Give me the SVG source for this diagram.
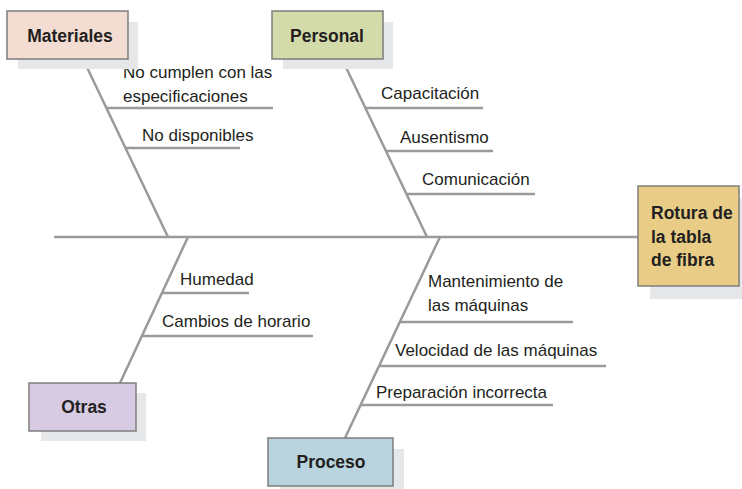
<svg xmlns="http://www.w3.org/2000/svg" width="742" height="489" viewBox="0 0 742 489">
<style>
.box{stroke:#7d7d7d;stroke-width:1.5}
.sh{fill:#e6e7e8}
.ln{stroke:#9a9a9c;stroke-width:2.5;fill:none;stroke-linecap:butt}
.lbl{font-family:"Liberation Sans",Arial,sans-serif;font-size:17px;fill:#231f20}
.hd{font-family:"Liberation Sans",Arial,sans-serif;font-size:17.5px;font-weight:bold;fill:#231f20;text-anchor:middle}
</style>
<rect width="742" height="489" fill="#ffffff"/>
<g id="connectors">
<line class="ln" x1="54" y1="237" x2="638" y2="237"/>
<line class="ln" x1="83" y1="59" x2="168" y2="237"/>
<line class="ln" x1="342" y1="59" x2="427" y2="237"/>
<line class="ln" x1="188" y1="237" x2="120" y2="383"/>
<line class="ln" x1="440" y1="237" x2="345" y2="438"/>
<line class="ln" x1="106" y1="108" x2="273" y2="108"/>
<line class="ln" x1="125" y1="148" x2="240" y2="148"/>
<line class="ln" x1="366" y1="108" x2="483" y2="108"/>
<line class="ln" x1="386" y1="151" x2="493" y2="151"/>
<line class="ln" x1="407" y1="194" x2="535" y2="194"/>
<line class="ln" x1="162" y1="293" x2="249" y2="293"/>
<line class="ln" x1="143" y1="336" x2="313" y2="336"/>
<line class="ln" x1="400" y1="322" x2="573" y2="322"/>
<line class="ln" x1="379" y1="366" x2="606" y2="366"/>
<line class="ln" x1="361" y1="405" x2="553" y2="405"/>
</g>
<g id="labels">
<text class="lbl" x="123" y="78">No cumplen con las</text>
<text class="lbl" x="123" y="102">especificaciones</text>
<text class="lbl" x="142" y="141">No disponibles</text>
<text class="lbl" x="381" y="99">Capacitación</text>
<text class="lbl" x="400" y="143">Ausentismo</text>
<text class="lbl" x="422" y="185">Comunicación</text>
<text class="lbl" x="180" y="285">Humedad</text>
<text class="lbl" x="162" y="327">Cambios de horario</text>
<text class="lbl" x="428" y="287">Mantenimiento de</text>
<text class="lbl" x="428" y="311">las máquinas</text>
<text class="lbl" x="395" y="356">Velocidad de las máquinas</text>
<text class="lbl" x="376" y="398">Preparación incorrecta</text>
</g>
<g id="materiales">
<rect class="sh" x="18" y="22" width="120" height="47"/>
<rect class="box" x="7" y="11" width="121" height="48" fill="#f3dcd2"/>
<text class="hd" x="70" y="42">Materiales</text>
</g>
<g id="personal">
<rect class="sh" x="283" y="22" width="110" height="47"/>
<rect class="box" x="272" y="11" width="111" height="48" fill="#d4dbab"/>
<text class="hd" x="327" y="42">Personal</text>
</g>
<g id="rotura">
<rect class="sh" x="650" y="198" width="92" height="101"/>
<rect class="box" x="638" y="186" width="101" height="100" fill="#e9cd87"/>
<text class="hd" style="text-anchor:start" x="651" y="219">Rotura de</text>
<text class="hd" style="text-anchor:start" x="651" y="243">la tabla</text>
<text class="hd" style="text-anchor:start" x="651" y="266">de fibra</text>
</g>
<g id="otras">
<rect class="sh" x="41" y="393" width="105" height="48"/>
<rect class="box" x="29" y="383" width="107" height="48" fill="#d6cbe3"/>
<text class="hd" x="84" y="413">Otras</text>
</g>
<g id="proceso">
<rect class="sh" x="280" y="449" width="124" height="40"/>
<rect class="box" x="268" y="438" width="125" height="48" fill="#b9d3df"/>
<text class="hd" x="331" y="468">Proceso</text>
</g>
</svg>
